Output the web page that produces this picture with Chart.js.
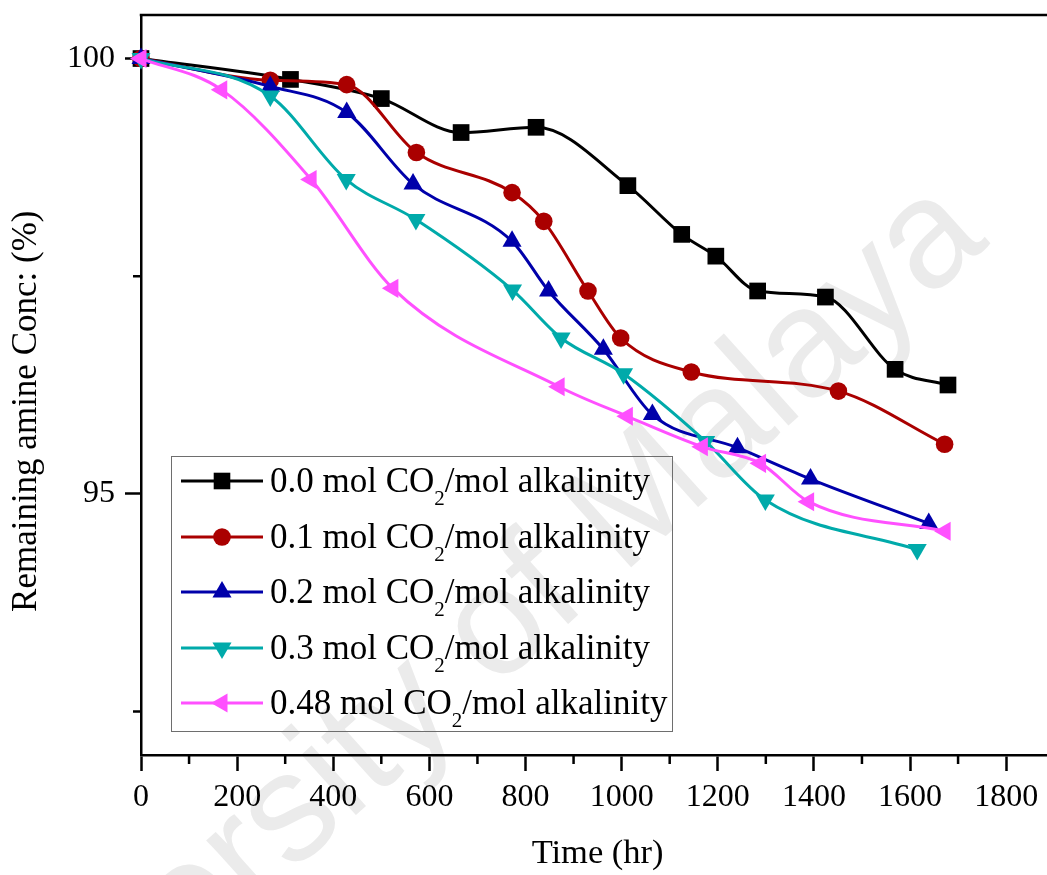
<!DOCTYPE html>
<html><head><meta charset="utf-8">
<script src="https://cdn.jsdelivr.net/npm/chart.js@4.4.0/dist/chart.umd.min.js"></script>
<style>
html,body{margin:0;padding:0;overflow:hidden;background:#fff;}
#wrap{position:relative;width:1047px;height:875px;overflow:hidden;background:#fff;}
#wm{position:absolute;left:440px;top:668px;transform:translate(-50%,-50%) rotate(-42deg);font-family:'Liberation Sans',sans-serif;font-size:154px;color:#ebebeb;white-space:nowrap;line-height:1;z-index:0;}
#c{position:absolute;left:0;top:0;z-index:1;}
#legend{position:absolute;left:171px;top:456px;width:500px;height:274px;border:1.5px solid #6e6e6e;z-index:2;font-family:'Liberation Serif',serif;color:#000;}
.row{position:absolute;left:0;width:500px;height:42px;}
.row svg{position:absolute;left:8px;top:6px;}
.row span{position:absolute;left:98px;top:0;font-size:35px;line-height:42px;white-space:nowrap;}
.row sub{font-size:21px;vertical-align:-13px;line-height:0;}
</style></head>
<body><div id="wrap">
<div id="wm">University of Malaya</div>
<canvas id="c" width="1066" height="875"></canvas>
<div id="legend"></div>
</div>
<script>
// ---- data ----
const hours00 = [0, 311, 500, 666, 822, 1013, 1125, 1196, 1283, 1424, 1569, 1679];
const conc00  = [100, 99.76, 99.54, 99.15, 99.21, 98.54, 97.98, 97.73, 97.33, 97.26, 96.43, 96.25];
const hours01 = [0, 269, 428, 573, 772, 838, 930, 998, 1145, 1451, 1672];
const conc01  = [100, 99.75, 99.70, 98.92, 98.46, 98.13, 97.33, 96.79, 96.40, 96.18, 95.57];
const hours02 = [0, 269, 428, 566, 772, 848, 962, 1064, 1241, 1393, 1639];
const conc02  = [100, 99.68, 99.38, 98.56, 97.90, 97.33, 96.66, 95.91, 95.53, 95.17, 94.66];
const hours03 = [0, 269, 427, 572, 773, 874, 1004, 1175, 1299, 1615];
const conc03  = [100, 99.57, 98.61, 98.15, 97.34, 96.79, 96.38, 95.60, 94.93, 94.36];
const hours048 = [0, 168, 354, 524, 870, 1012, 1168, 1289, 1389, 1673];
const conc048  = [100, 99.64, 98.61, 97.36, 96.23, 95.89, 95.54, 95.35, 94.91, 94.57];
const seriesLabels = ['0.0', '0.1', '0.2', '0.3', '0.48'];
const xTickValues = [0, 200, 400, 600, 800, 1000, 1200, 1400, 1600, 1800];
const xMinorValues = [100, 300, 500, 700, 900, 1100, 1300, 1500, 1700, 1900];
const yTickValues = [95, 100];
const yMinorValues = [92.5, 97.5];

const colors = ['#000000', '#aa0000', '#0000aa', '#00aaaa', '#ff50ff'];
const styles = ['rect', 'circle', 'triangle', 'triangle', 'triangle'];
const rotations = [0, 0, 0, 180, 270];
const radii = [11.8, 8.8, 11, 11, 11];
const hoursList = [hours00, hours01, hours02, hours03, hours048];
const concList = [conc00, conc01, conc02, conc03, conc048];

const datasets = hoursList.map((h, i) => ({
  label: seriesLabels[i] + ' mol CO2/mol alkalinity',
  data: h.map((x, j) => ({x: x, y: concList[i][j]})),
  borderColor: colors[i],
  backgroundColor: colors[i],
  pointBackgroundColor: colors[i],
  pointBorderColor: colors[i],
  pointBorderWidth: 0,
  pointStyle: styles[i],
  pointRotation: rotations[i],
  pointRadius: radii[i],
  borderWidth: 3,
  cubicInterpolationMode: 'monotone',
  clip: false,
  order: 5 - i
}));

const minorTicks = {
  id: 'minorTicks',
  beforeDatasetsDraw(chart) {
    const {ctx, chartArea: a, scales: {x, y}} = chart;
    ctx.save();
    ctx.strokeStyle = '#000';
    ctx.lineWidth = 2.5;
    ctx.beginPath();
    ctx.moveTo(a.left - 1.25, a.top);
    ctx.lineTo(a.right + 1.25, a.top);
    ctx.moveTo(a.right, a.top);
    ctx.lineTo(a.right, a.bottom);
    xMinorValues.forEach(v => { const p = x.getPixelForValue(v); ctx.moveTo(p, a.bottom); ctx.lineTo(p, a.bottom + 9); });
    yMinorValues.forEach(v => { const p = y.getPixelForValue(v); ctx.moveTo(a.left, p); ctx.lineTo(a.left - 8, p); });
    ctx.stroke();
    ctx.restore();
  }
};

const serif = 'Liberation Serif';
new Chart(document.getElementById('c'), {
  type: 'line',
  data: {datasets},
  plugins: [minorTicks],
  options: {
    responsive: false,
    devicePixelRatio: 1,
    animation: false,
    layout: {padding: {top: 15, right: 4, left: 0, bottom: 0}},
    plugins: {legend: {display: false}, tooltip: {enabled: false}},
    scales: {
      x: {
        type: 'linear', min: 0, max: 1900,
        afterBuildTicks: s => { s.ticks = xTickValues.map(v => ({value: v})); },
        afterFit: s => { s.height = 120; s.paddingLeft = 0; s.paddingRight = 0; },
        grid: {display: true, drawOnChartArea: false, drawTicks: true, tickLength: 16, tickWidth: 2.5, tickColor: '#000'},
        border: {display: true, color: '#000', width: 2.5},
        ticks: {color: '#000', font: {size: 32, family: serif}, padding: 7, maxRotation: 0, autoSkip: false, callback: v => String(v)},
        title: {display: true, text: 'Time (hr)', color: '#000', font: {size: 34.5, family: serif}, padding: {top: 0, bottom: 0}}
      },
      y: {
        type: 'linear', min: 92, max: 100.5,
        afterBuildTicks: s => { s.ticks = yTickValues.map(v => ({value: v})); },
        afterFit: s => { s.width = 141; s.paddingTop = 0; s.paddingBottom = 0; },
        grid: {display: true, drawOnChartArea: false, drawTicks: true, tickLength: 16, tickWidth: 2.5, tickColor: '#000'},
        border: {display: true, color: '#000', width: 2.5},
        ticks: {color: '#000', font: {size: 32, family: serif}, padding: 10, callback: v => String(v)},
        title: {display: true, text: 'Remaining amine Conc: (%)\u00a0\u00a0\u00a0\u00a0\u00a0\u00a0', color: '#000', font: {size: 35, family: serif}, padding: {top: 6, bottom: 0}}
      }
    }
  }
});

// HTML legend (needed for the CO2 subscript)
const legend = document.getElementById('legend');
const rowCenters = [24, 79.5, 135, 190.5, 246];
function markerSvg(i) {
  const c = colors[i];
  let m = '';
  const cx = 42, cy = 15;
  if (i === 0) m = `<rect x="${cx-8.3}" y="${cy-8.3}" width="16.6" height="16.6" fill="${c}"/>`;
  else if (i === 1) m = `<circle cx="${cx}" cy="${cy}" r="8.8" fill="${c}"/>`;
  else {
    const r = 11, rot = rotations[i] * Math.PI / 180;
    const pts = [0, 1, 2].map(k => {
      const a = rot + k * 2 * Math.PI / 3;
      return (cx + Math.sin(a) * r).toFixed(2) + ',' + (cy - Math.cos(a) * r).toFixed(2);
    }).join(' ');
    m = `<polygon points="${pts}" fill="${c}"/>`;
  }
  return `<svg width="84" height="30" viewBox="0 0 84 30"><line x1="1" y1="15" x2="83" y2="15" stroke="${c}" stroke-width="3"/>${m}</svg>`;
}
seriesLabels.forEach((lab, i) => {
  const row = document.createElement('div');
  row.className = 'row';
  row.style.top = (rowCenters[i] - 21) + 'px';
  row.innerHTML = markerSvg(i) + `<span>${lab} mol CO<sub>2</sub>/mol alkalinity</span>`;
  legend.appendChild(row);
});
</script>
</body></html>
